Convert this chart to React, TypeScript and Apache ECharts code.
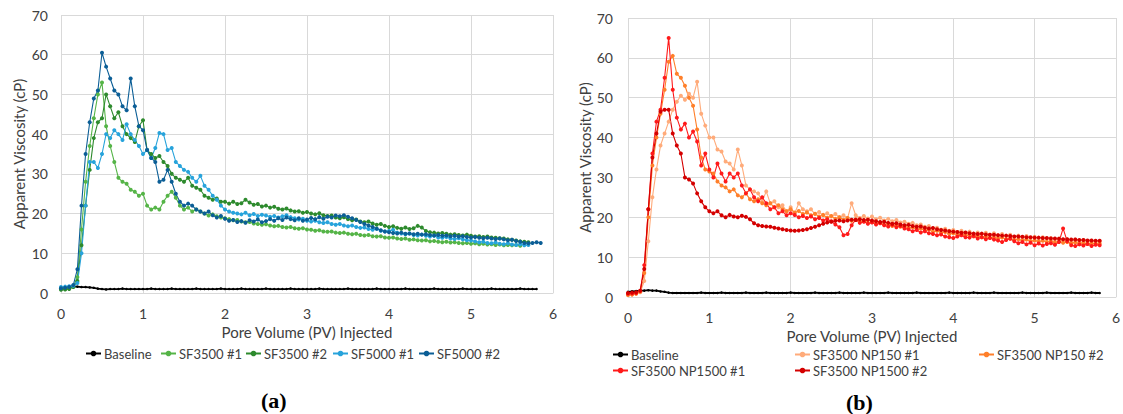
import React, { useEffect, useRef } from "react";
import * as echarts from "echarts";

// Pore volume sample positions (PV)
const PV = [
  0, 0.05, 0.1, 0.15, 0.2, 0.25, 0.3, 0.35, 0.4, 0.45,
  0.5, 0.55, 0.6, 0.65, 0.7, 0.75, 0.8, 0.85, 0.9, 0.95,
  1, 1.05, 1.1, 1.15, 1.2, 1.25, 1.3, 1.35, 1.4, 1.45,
  1.5, 1.55, 1.6, 1.65, 1.7, 1.75, 1.8, 1.85, 1.9, 1.95,
  2, 2.05, 2.1, 2.15, 2.2, 2.25, 2.3, 2.35, 2.4, 2.45,
  2.5, 2.55, 2.6, 2.65, 2.7, 2.75, 2.8, 2.85, 2.9, 2.95,
  3, 3.05, 3.1, 3.15, 3.2, 3.25, 3.3, 3.35, 3.4, 3.45,
  3.5, 3.55, 3.6, 3.65, 3.7, 3.75, 3.8, 3.85, 3.9, 3.95,
  4, 4.05, 4.1, 4.15, 4.2, 4.25, 4.3, 4.35, 4.4, 4.45,
  4.5, 4.55, 4.6, 4.65, 4.7, 4.75, 4.8, 4.85, 4.9, 4.95,
  5, 5.05, 5.1, 5.15, 5.2, 5.25, 5.3, 5.35, 5.4, 5.45,
  5.5, 5.55, 5.6, 5.65, 5.7, 5.75, 5.8, 5.85,
];

const X_TICKS = [0, 1, 2, 3, 4, 5, 6];
const Y_TICKS = [0, 10, 20, 30, 40, 50, 60, 70];

// ---- Panel (a) ----
const NAMES_A = ["Baseline", "SF3500 #1", "SF3500 #2", "SF5000 #1", "SF5000 #2"];
const COLORS_A = ["#000000", "#55B447", "#2D8A2D", "#27A3DB", "#0B5E96"];

const BASE_A = [
  1.0, 1.2, 1.5, 1.6, 1.6, 1.5, 1.5, 1.4, 1.3, 1.1,
  1.0, 0.9, 1.0, 1.0, 1.0, 1.1, 1.0, 1.0, 1.0, 1.0,
  1.0, 1.0, 1.1, 1.0, 1.0, 1.0, 1.0, 1.1, 1.0, 1.0,
  1.0, 1.0, 1.0, 1.1, 1.0, 1.0, 1.0, 1.0, 1.0, 1.1,
  1.0, 1.0, 1.0, 1.0, 1.1, 1.0, 1.0, 1.0, 1.0, 1.0,
  1.1, 1.0, 1.0, 1.0, 1.0, 1.0, 1.1, 1.0, 1.0, 1.0,
  1.0, 1.0, 1.0, 1.1, 1.0, 1.0, 1.0, 1.0, 1.0, 1.0,
  1.1, 1.0, 1.0, 1.0, 1.0, 1.0, 1.0, 1.1, 1.0, 1.0,
  1.0, 1.0, 1.0, 1.0, 1.1, 1.0, 1.0, 1.0, 1.0, 1.0,
  1.0, 1.1, 1.0, 1.0, 1.0, 1.0, 1.0, 1.0, 1.1, 1.0,
  1.0, 1.0, 1.0, 1.0, 1.0, 1.1, 1.0, 1.0, 1.0, 1.0,
  1.0, 1.0, 1.1, 1.0, 1.0, 1.0, 1.0,
];
const SF3500_1 = [
  1.0, 1.0, 1.2, 1.6, 4, 16, 28, 37, 44, 50,
  53, 42, 37, 33, 29, 28, 27.5, 26, 25.5, 24.5,
  25, 22, 21, 21.5, 21, 23, 24.5, 25.5, 24, 22,
  21, 21.5, 20.5, 21, 20.5, 20, 19.5, 19.8, 19.3, 19,
  18.8, 18.6, 18.3, 18.4, 18, 17.8, 17.9, 17.5, 17.4, 17.2,
  17.3, 17, 16.8, 16.9, 16.6, 16.5, 16.6, 16.3, 16.2, 16.3,
  16, 15.9, 15.7, 15.8, 15.5, 15.4, 15.5, 15.2, 15.1, 15.2,
  14.9, 14.8, 14.9, 14.6, 14.5, 14.6, 14.3, 14.2, 14.3, 14.0,
  13.9, 14.0, 13.7, 13.6, 13.7, 13.4, 13.5, 13.3, 13.2, 13.3,
  13.0, 13.1, 12.9, 12.8, 12.9, 12.7, 12.8, 12.6, 12.5, 12.6,
  12.4, 12.5, 12.3, 12.4, 12.2, 12.3, 12.1, 12.2, 12.0, 12.1,
  12.0, 12.1, 11.9,
];
const SF3500_2 = [
  0.8, 0.9, 1.0, 1.5, 3, 12, 22, 31, 39, 43,
  44, 50, 47, 44, 45.5, 42, 40, 39, 38, 42,
  43.5, 36, 35, 34, 34.5, 33, 32, 30, 29, 28.5,
  28, 29, 27, 26.5, 26, 24.5, 24, 23.5, 23.8, 23,
  23, 22.5, 23, 22.4, 22.6, 23.5, 22.8, 22.2, 22.4, 21.8,
  22, 21.5, 21.7, 21.2, 21, 21.3, 20.8, 20.5, 20.6, 20.2,
  20.4, 20, 19.8, 20.1, 19.6, 19.4, 19.5, 19, 18.8, 19.1,
  18.6, 18.3, 18.5, 18, 17.8, 18, 17.5, 17.2, 17.4, 16.9,
  16.6, 16.8, 16.4, 16.2, 16.5, 16.1, 16.3, 16.9, 16.5, 15.6,
  15.3, 15.2, 15, 15.1, 14.9, 14.7, 14.8, 14.6, 14.5, 14.7,
  14.4, 14.2, 14.3, 14.1, 14.2, 14, 13.9, 13.8, 13.7, 13.5,
  13.4, 13.2, 13, 12.9, 12.8,
];
const SF5000_1 = [
  1.5, 1.6, 1.7, 1.8, 2.5, 10, 22, 33, 33, 31.5,
  35, 40, 39, 41, 40, 38.5, 42.5, 40, 38.5, 37,
  35, 36, 34, 36.5, 40.3, 40, 36, 36.5, 33, 32,
  31, 30.5, 29, 28, 29.5, 27, 26, 24.5, 23.5, 22,
  21, 20.5, 20.2, 20, 19.8, 20.2, 19.6, 19.9, 19.4, 19.7,
  19.5, 19.2, 19.4, 19, 19.3, 19.6, 19.1, 18.8, 18.5, 18.7,
  18.2, 18, 18.2, 17.8, 17.6, 17.8, 17.4, 17.2, 17.4, 17,
  16.8, 17, 16.6, 16.4, 16.5, 16.1, 15.9, 16.2, 15.7, 15.5,
  15.6, 15.9, 15.2, 15, 14.8, 15, 14.6, 14.5, 14.7, 14.4,
  14.2, 14.4, 14, 13.9, 14.1, 13.7, 13.6, 13.8, 13.5, 13.3,
  13.2, 13, 12.8, 12.9, 12.6, 12.5, 12.7, 12.4, 12.3, 12.5,
  12.2, 12.1, 12.3, 12, 12.1,
];
const SF5000_2 = [
  1.2, 1.3, 1.5, 2, 6, 22, 35, 43, 49, 51,
  60.5, 57, 54, 51, 50, 47, 46, 54, 47, 42,
  41, 36, 34, 33, 28, 28.5, 31, 28, 25, 23,
  22, 22.5, 22, 21, 20.5, 20, 20.5, 19.6, 19, 19.4,
  18.7, 18.2, 18.4, 17.9, 18.1, 17.7, 18.3, 18, 18.5, 17.8,
  18.1, 18.6, 18.2, 18.8, 18.4, 19, 18.6, 18.3, 18.8, 18.2,
  18.5, 18.9, 18.6, 19.1, 18.7, 19.2, 19, 19.5, 19.3, 19.6,
  19.2, 18.8, 18.4, 17.9, 17.4, 17, 16.6, 16.2, 15.8, 15.5,
  15.3, 15.1, 15, 15.2, 14.9, 15, 14.8, 14.9, 14.7, 14.8,
  14.6, 14.5, 14.6, 14.4, 14.5, 14.3, 14.4, 14.2, 14.3, 14.1,
  14, 14.1, 13.9, 13.8, 13.9, 13.7, 13.6, 13.7, 13.5, 13.3,
  13.4, 13.1, 12.9, 12.6, 12.5, 12.6, 12.8, 12.6,
];

// ---- Panel (b) ----
const NAMES_B = ["Baseline", "SF3500 NP150 #1", "SF3500 NP150 #2", "SF3500 NP1500 #1", "SF3500 NP1500 #2"];
const COLORS_B = ["#000000", "#FFAB7A", "#FF7F2A", "#FF1A1A", "#D40000"];

const BASE_B = [
  1.3, 1.4, 1.5, 1.6, 1.6, 1.7, 1.6, 1.6, 1.4, 1.3,
  1.1, 1.0, 1.0, 1.0, 1.0, 1.0, 1.0, 1.0, 1.1, 1.0,
  1.0, 1.0, 1.0, 1.1, 1.0, 1.0, 1.0, 1.0, 1.0, 1.1,
  1.0, 1.0, 1.0, 1.0, 1.1, 1.0, 1.0, 1.0, 1.0, 1.0,
  1.1, 1.0, 1.0, 1.0, 1.0, 1.0, 1.1, 1.0, 1.0, 1.0,
  1.0, 1.0, 1.1, 1.0, 1.0, 1.0, 1.0, 1.0, 1.1, 1.0,
  1.0, 1.0, 1.0, 1.0, 1.1, 1.0, 1.0, 1.0, 1.0, 1.0,
  1.0, 1.1, 1.0, 1.0, 1.0, 1.0, 1.0, 1.0, 1.0, 1.1,
  1.0, 1.0, 1.0, 1.0, 1.0, 1.1, 1.0, 1.0, 1.0, 1.0,
  1.1, 1.0, 1.0, 1.0, 1.0, 1.0, 1.0, 1.1, 1.0, 1.0,
  1.0, 1.0, 1.0, 1.1, 1.0, 1.0, 1.0, 1.0, 1.0, 1.1,
  1.0, 1.0, 1.0, 1.0, 1.1, 1.0, 1.0,
];
const NP150_1 = [
  0.5, 0.6, 0.8, 1.2, 4, 14, 25, 32, 38, 41,
  44, 47, 49, 50.5, 49.5, 51, 50, 54, 46, 43,
  40, 40, 37, 36.5, 34, 33.5, 32, 37, 33, 28,
  27, 26.5, 26, 24, 26.5, 23.5, 24, 22.5, 23, 21.5,
  22.5, 21, 23.5, 22, 21.5, 22, 20.8, 21.3, 20.5, 21,
  20.2, 20.8, 20, 20.5, 19.8, 23.5, 20.5, 19.8, 20.3, 19.7,
  20.2, 19.5, 19.9, 19.2, 19.6, 19, 19.3, 18.7, 18.9, 18.4,
  18.6, 18, 18.2, 17.6, 17.8, 17.2, 17.4, 16.9, 17.1, 16.6,
  16.8, 16.3, 16.6, 16.1, 16.4, 15.9, 16.2, 15.8, 16.1, 15.6,
  16, 15.5, 15.8, 15.3, 15.6, 15.1, 15.4, 15, 15.3, 14.8,
  15.1, 14.7, 15, 14.5, 14.8, 14.4, 14.7, 14.2, 14.5, 14.1,
  14.4, 14, 14.3, 13.9, 14.1, 13.8, 14,
];
const NP150_2 = [
  0.5, 0.6, 0.8, 1.3, 6, 20, 33, 40, 46, 52,
  59, 60.5, 56, 55, 53, 50, 48, 42, 35, 32,
  31.5, 31, 29, 28, 27.5, 26.5, 27, 25.5, 25, 26,
  24.5, 24, 24.5, 23.5, 23, 23.5, 22.5, 23, 22, 21.5,
  22, 21.2, 21.6, 20.8, 21.2, 20.5, 20.9, 20.2, 20.6, 19.9,
  20.3, 19.6, 20, 19.4, 19.8, 19.1, 19.5, 18.9, 19.2, 18.6,
  18.9, 18.4, 18.7, 18.1, 18.4, 17.8, 18.1, 17.6, 17.8, 17.3,
  17.5, 17, 17.2, 16.7, 16.9, 16.4, 16.6, 16.1, 16.3, 15.8,
  16, 15.6, 15.8, 15.4, 15.6, 15.2, 15.4, 15, 15.2, 14.8,
  15, 14.7, 14.9, 14.5, 14.7, 14.3, 14.5, 14.2, 14.4, 14,
  14.2, 13.9, 14.1, 13.8, 14, 13.7, 13.9, 13.6, 13.8, 13.5,
  13.7, 13.4, 13.6, 13.3, 13.5, 13.3, 13.4,
];
const NP1500_1 = [
  0.8, 0.9, 1.0, 1.5, 8, 22, 36, 44, 47, 55,
  65, 52, 45, 42, 43.5, 40, 41.5, 39, 33, 36,
  32, 30, 33.5, 31, 29, 31, 30, 31, 28, 26,
  27, 25, 24, 25, 23.5, 22, 22.5, 21, 21.5, 20.5,
  21, 20.6, 20, 20.3, 19.8, 20.2, 19.5, 19.8, 19.2, 19.5,
  19, 18.2, 17.5, 15.5, 15.8, 18, 19.4, 18.6, 18.9, 18.4,
  18.7, 18.2, 18.5, 18, 17.7, 18.1, 17.5, 17.8, 17.2, 17,
  16.5, 16.8, 16.2, 16.5, 16, 15.8, 15.5, 15.7, 15.2, 15,
  14.8, 15.2, 15.5, 15, 14.9, 15.3, 14.7, 15, 14.5, 14.8,
  14.4, 14.2, 13.8, 14.3, 14.6, 14, 13.5, 13.8, 13.2, 13.6,
  13, 13.4, 12.9, 13.3, 13.5, 13.1, 13.8, 17.2, 14, 13,
  12.8, 13.2, 12.9, 13.3, 12.8, 13.1, 13,
];
const NP1500_2 = [
  1.0, 1.1, 1.2, 1.6, 7, 22, 35, 41, 46.5, 47,
  47, 41, 38, 36, 30, 29.5, 28.5, 26, 24, 22.5,
  21.5, 21, 21.5, 20.5, 20, 20.6, 20.2, 20, 20.4, 20.1,
  19.5, 18.5, 18, 17.8, 17.7, 17.6, 17.4, 17.2, 17, 16.8,
  16.7, 16.6, 16.7, 16.8, 17, 17.3, 17.6, 18, 18.4, 18.7,
  18.9, 19.1, 19.2, 19, 19.2, 19.4, 19.3, 19.5, 19.3, 19.4,
  19.2, 19, 18.8, 18.9, 18.6, 18.4, 18.5, 18.2, 18, 18.1,
  17.8, 17.6, 17.7, 17.4, 17.2, 17.3, 17, 16.8, 16.7, 16.5,
  16.4, 16.3, 16.1, 16.2, 16, 15.9, 15.8, 15.9, 15.7, 15.6,
  15.6, 15.5, 15.4, 15.4, 15.3, 15.2, 15.2, 15.1, 15, 15,
  14.9, 14.9, 14.8, 14.8, 14.7, 14.7, 14.6, 14.5, 14.5, 14.4,
  14.4, 14.3, 14.3, 14.2, 14.2, 14.1, 14.1,
];

const FONT = "Lato, 'Open Sans', sans-serif";
const TXT = "#404040";

function mkSeries(name: string, ys: number[], color: string, idx: number, isBase: boolean) {
  return {
    type: "line",
    name,
    xAxisIndex: idx,
    yAxisIndex: idx,
    data: ys.map((y, i) => [PV[i], y]),
    symbol: "circle",
    symbolSize: isBase ? 2.5 : 4,
    showSymbol: true,
    color,
    lineStyle: { color, width: isBase ? 1.8 : 1.1 },
    itemStyle: { color },
    silent: true,
    emphasis: { disabled: true },
  };
}

function xAxisCfg(idx: number, gap: number) {
  return {
    type: "value",
    gridIndex: idx,
    min: X_TICKS[0],
    max: X_TICKS[X_TICKS.length - 1],
    interval: 1,
    name: "Pore Volume (PV) Injected",
    nameLocation: "middle",
    nameGap: gap,
    nameTextStyle: { fontFamily: FONT, fontSize: 15, color: TXT },
    axisLine: { show: true, lineStyle: { color: "#d9d9d9", width: 1 } },
    axisTick: { show: false },
    axisLabel: { fontFamily: FONT, fontSize: 14, color: TXT, margin: 13 },
    splitLine: { show: true, lineStyle: { color: "#d9d9d9", width: 1 } },
  };
}

function yAxisCfg(idx: number, gap: number, lblMargin: number) {
  return {
    type: "value",
    gridIndex: idx,
    min: Y_TICKS[0],
    max: Y_TICKS[Y_TICKS.length - 1],
    interval: 10,
    name: "Apparent Viscosity (cP)",
    nameLocation: "middle",
    nameGap: gap,
    nameTextStyle: { fontFamily: FONT, fontSize: 15, color: TXT },
    axisLine: { show: false },
    axisTick: { show: false },
    axisLabel: { fontFamily: FONT, fontSize: 14, color: TXT, margin: lblMargin },
    splitLine: { show: true, lineStyle: { color: "#d9d9d9", width: 1 } },
  };
}

function legendItem(name: string, left: number, top: number) {
  return {
    data: [name],
    left,
    top,
    padding: 0,
    orient: "horizontal",
    itemWidth: 15,
    itemHeight: 7,
    itemGap: 10,
    selectedMode: false,
    textStyle: { fontFamily: FONT, fontSize: 13, color: TXT, padding: [0, 0, 0, -2] },
  };
}

export default function App() {
  const ref = useRef<HTMLDivElement>(null);
  useEffect(() => {
    if (!ref.current) return;
    const chart = echarts.init(ref.current, undefined, { renderer: "svg" });
    const dataA = [BASE_A, SF3500_1, SF3500_2, SF5000_1, SF5000_2];
    const dataB = [BASE_B, NP150_1, NP150_2, NP1500_1, NP1500_2];
    const series: any[] = [];
    NAMES_A.forEach((n, i) => series.push(mkSeries(n, dataA[i], COLORS_A[i], 0, i === 0)));
    NAMES_B.forEach((n, i) => series.push(mkSeries(n, dataB[i], COLORS_B[i], 1, i === 0)));

    chart.setOption({
      animation: false,
      backgroundColor: "#ffffff",
      grid: [
        { left: 61, top: 15, width: 492, height: 278 },
        { left: 628, top: 18, width: 490, height: 279 },
      ],
      xAxis: [xAxisCfg(0, 25), xAxisCfg(1, 26)],
      yAxis: [yAxisCfg(0, 35, 13), yAxisCfg(1, 35, 15)],
      legend: [
        legendItem(NAMES_A[0], 85, 347),
        legendItem(NAMES_A[1], 160, 347),
        legendItem(NAMES_A[2], 245, 347),
        legendItem(NAMES_A[3], 332, 347),
        legendItem(NAMES_A[4], 418, 347),
        legendItem(NAMES_B[0], 612, 348),
        legendItem(NAMES_B[1], 794, 348),
        legendItem(NAMES_B[2], 978, 348),
        legendItem(NAMES_B[3], 612, 364),
        legendItem(NAMES_B[4], 794, 364),
      ],
      graphic: [
        {
          type: "text",
          left: 261,
          top: 389,
          style: { text: "(a)", font: "bold 22px 'Liberation Serif', 'DejaVu Serif', serif", fill: "#000" },
        },
        {
          type: "text",
          left: 846,
          top: 391,
          style: { text: "(b)", font: "bold 22px 'Liberation Serif', 'DejaVu Serif', serif", fill: "#000" },
        },
      ],
      series,
    });
    return () => chart.dispose();
  }, []);
  return (
    <div
      ref={ref}
      style={{ position: "absolute", left: 0, top: 0, width: 1123, height: 414, background: "#fff" }}
    />
  );
}
